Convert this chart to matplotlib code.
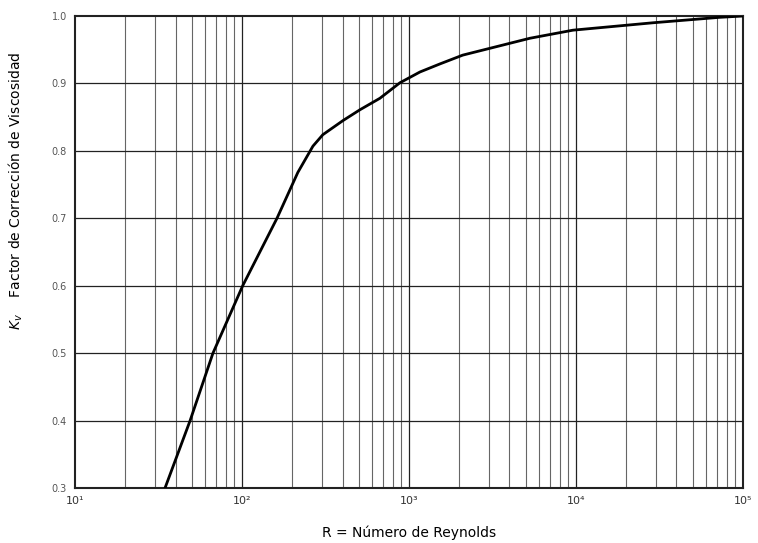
import numpy as np
import matplotlib.pyplot as plt

# curve
reynolds = [34.6, 48.9, 67, 101, 162, 216, 266, 305, 403, 509, 670, 883,
            1164, 1535, 2100, 5300, 9600, 29000, 72000, 100000]
kv = [0.300, 0.400, 0.500, 0.600, 0.700, 0.768, 0.807, 0.824, 0.845, 0.861, 0.878, 0.901,
      0.917, 0.929, 0.942, 0.967, 0.979, 0.990, 0.998, 1.000]

x_ticks = [1e1, 1e2, 1e3, 1e4, 1e5]
x_labels = ['10¹', '10²', '10³', '10⁴', '10⁵']
y_ticks = [0.3, 0.4, 0.5, 0.6, 0.7, 0.8, 0.9, 1.0]
y_labels = ['0.3', '0.4', '0.5', '0.6', '0.7', '0.8', '0.9', '1.0']

fig = plt.figure(figsize=(7.58, 5.43), dpi=100)
ax = fig.add_axes([0.099, 0.1013, 0.881, 0.8692])

ax.set_xscale('log')
ax.set_xlim(10, 1e5)
ax.set_ylim(0.3, 1.0)

# vertical grid at every 1..9 x 10^n
for d in range(1, 5):
    for m in range(2, 10):
        ax.axvline(m * 10**d, color='#666666', lw=0.8, zorder=1)
for d in range(2, 5):
    ax.axvline(10**d, color='#222222', lw=0.9, zorder=1)
for y in y_ticks[1:-1]:
    ax.axhline(y, color='#222222', lw=0.9, zorder=1)

ax.plot(reynolds, kv, color='black', lw=2.0, zorder=3, solid_joinstyle='round')

ax.set_xticks(x_ticks)
ax.set_xticklabels(x_labels, fontsize=8, color='#333333')
ax.set_xticks([], minor=True)
ax.set_yticks(y_ticks)
ax.set_yticklabels(y_labels, fontsize=7, color='#555555')
ax.tick_params(length=0, pad=6)

for s in ax.spines.values():
    s.set_linewidth(1.5)
    s.set_color('#222222')

ax.set_xlabel('R = Número de Reynolds', fontsize=10, labelpad=14)
ax.set_ylabel('$K_v$    Factor de Corrección de Viscosidad', fontsize=10, labelpad=12)
ax.yaxis.set_label_coords(-0.075, 0.63)

fig.savefig('out.png', dpi=100)
